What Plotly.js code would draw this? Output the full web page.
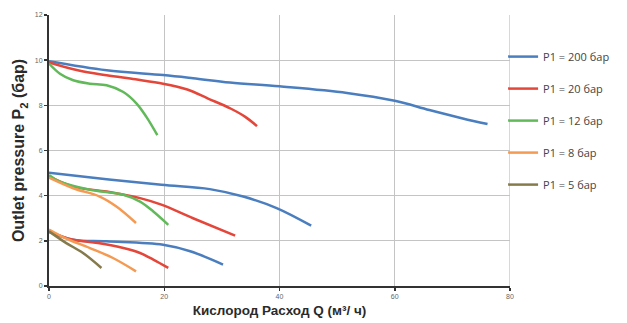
<!DOCTYPE html>
<html>
<head>
<meta charset="utf-8">
<script src="https://cdn.plot.ly/plotly-3.0.1.min.js"></script>
<style>html,body{margin:0;padding:0;background:#fff;}#chart{width:627px;height:323px;}</style>
</head>
<body>
<div id="chart"></div>
<script>
// Series (x = flow Q, y = outlet pressure P2)
const blue200_hi_x = [0, 10, 19.8, 25, 31.4, 40, 51.7, 60, 66, 71.8, 76.1];
const blue200_hi_y = [9.95, 9.55, 9.34, 9.2, 9.01, 8.84, 8.55, 8.2, 7.79, 7.42, 7.17];
const red20_hi_x = [0, 5, 10, 15, 19.8, 24, 27.6, 31.5, 34, 36.1];
const red20_hi_y = [9.9, 9.55, 9.33, 9.15, 8.96, 8.7, 8.3, 7.86, 7.5, 7.08];
const green12_hi_x = [0, 1.9, 4.2, 7.1, 10, 12.9, 15.2, 16.9, 18.8];
const green12_hi_y = [9.85, 9.4, 9.11, 8.96, 8.89, 8.59, 8.08, 7.49, 6.68];

const blue200_mid_x = [0, 10, 19.5, 27.9, 33.7, 39.5, 45.5];
const blue200_mid_y = [5.02, 4.73, 4.48, 4.29, 3.96, 3.45, 2.67];
const red20_mid_x = [0, 4.2, 10, 15.8, 19.5, 25, 32.3];
const red20_mid_y = [4.85, 4.4, 4.18, 3.89, 3.6, 3.0, 2.23];
const green12_mid_x = [0, 1.9, 7.1, 12.9, 15.8, 18.1, 20.7];
const green12_mid_y = [4.92, 4.62, 4.26, 4.04, 3.74, 3.3, 2.71];
const orange8_mid_x = [0, 4.2, 8.8, 11.7, 15.1];
const orange8_mid_y = [4.8, 4.33, 3.96, 3.52, 2.79];

const blue200_lo_x = [0, 4.2, 10, 19.8, 24.5, 30.2];
const blue200_lo_y = [2.42, 2.05, 1.98, 1.83, 1.54, 0.95];
const red20_lo_x = [0, 4.2, 8.5, 12.9, 15.8, 18.1, 20.7];
const red20_lo_y = [2.4, 2.05, 1.9, 1.68, 1.46, 1.17, 0.8];
const orange8_lo_x = [0, 3, 7.1, 11.1, 15.1];
const orange8_lo_y = [2.5, 2.1, 1.68, 1.24, 0.65];
const olive5_lo_x = [0, 3, 5.9, 9.1];
const olive5_lo_y = [2.42, 1.9, 1.46, 0.8];

const seriesNames = ["P1 = 200 бар", "P1 = 20 бар", "P1 = 12 бар", "P1 = 8 бар", "P1 = 5 бар"];
const xTicks = [0, 20, 40, 60, 80];
const yTicks = [0, 2, 4, 6, 8, 10, 12];

const colors = ["#4a7ebf", "#e4463a", "#62b95a", "#f59a52", "#857a4c"];

const curves = [
  [0, blue200_hi_x, blue200_hi_y, true],
  [0, blue200_mid_x, blue200_mid_y, false],
  [0, blue200_lo_x, blue200_lo_y, false],
  [1, red20_hi_x, red20_hi_y, true],
  [1, red20_mid_x, red20_mid_y, false],
  [1, red20_lo_x, red20_lo_y, false],
  [2, green12_hi_x, green12_hi_y, true],
  [2, green12_mid_x, green12_mid_y, false],
  [3, orange8_mid_x, orange8_mid_y, true],
  [3, orange8_lo_x, orange8_lo_y, false],
  [4, olive5_lo_x, olive5_lo_y, true]
];

const traces = curves.map(c => ({
  type: "scatter", mode: "lines",
  x: c[1], y: c[2],
  name: seriesNames[c[0]],
  legendgroup: "g" + c[0],
  showlegend: c[3],
  line: {color: colors[c[0]], width: 2.5, shape: "spline", smoothing: 1},
  hoverinfo: "skip"
}));

const layout = {
  width: 627, height: 323,
  margin: {l: 49, r: 117, t: 14.5, b: 36.5},
  paper_bgcolor: "#fff", plot_bgcolor: "#fff",
  font: {family: "Liberation Sans, Arial, sans-serif", color: "#333"},
  xaxis: {
    range: [0, 80], tickvals: xTicks, ticktext: xTicks.map(String),
    showgrid: true, gridcolor: "#c4c4c4", gridwidth: 1.3,
    zeroline: false, showline: true, linecolor: "#333", linewidth: 2,
    ticks: "outside", ticklen: 3, tickcolor: "#333", tickwidth: 1.5,
    tickfont: {size: 7, color: "#666", family: "Liberation Sans, Arial, sans-serif"},
    fixedrange: true,
    title: {text: "<b>Кислород Расход Q (м³/ ч)</b>", font: {size: 13.5, color: "#2a2a2a"}, standoff: 6}
  },
  yaxis: {
    range: [0, 12], tickvals: yTicks, ticktext: yTicks.map(String),
    showgrid: true, gridcolor: "#c4c4c4", gridwidth: 1.3,
    zeroline: false, showline: true, linecolor: "#333", linewidth: 2,
    ticks: "outside", ticklen: 3, tickcolor: "#333", tickwidth: 1.5,
    tickfont: {size: 7, color: "#666", family: "Liberation Sans, Arial, sans-serif"},
    fixedrange: true,
    title: {text: "<b>Outlet pressure P<sub>2</sub> (бар)</b>", font: {size: 16, color: "#2a2a2a"}, standoff: 6}
  },
  shapes: [
    {type: "line", xref: "x", yref: "y", x0: 80, x1: 80, y0: 0, y1: 12, line: {color: "#c4c4c4", width: 1.3}, layer: "below"}
  ],
  legend: {
    x: 0.985, xanchor: "left", y: 0.9, yanchor: "top",
    font: {size: 11, color: "#444", family: "Open Sans, Liberation Sans, sans-serif"},
    tracegroupgap: 13, itemwidth: 30, traceorder: "grouped",
    bgcolor: "rgba(0,0,0,0)"
  },
  showlegend: true
};

Plotly.newPlot("chart", traces, layout, {displayModeBar: false, staticPlot: true});
</script>
</body>
</html>
